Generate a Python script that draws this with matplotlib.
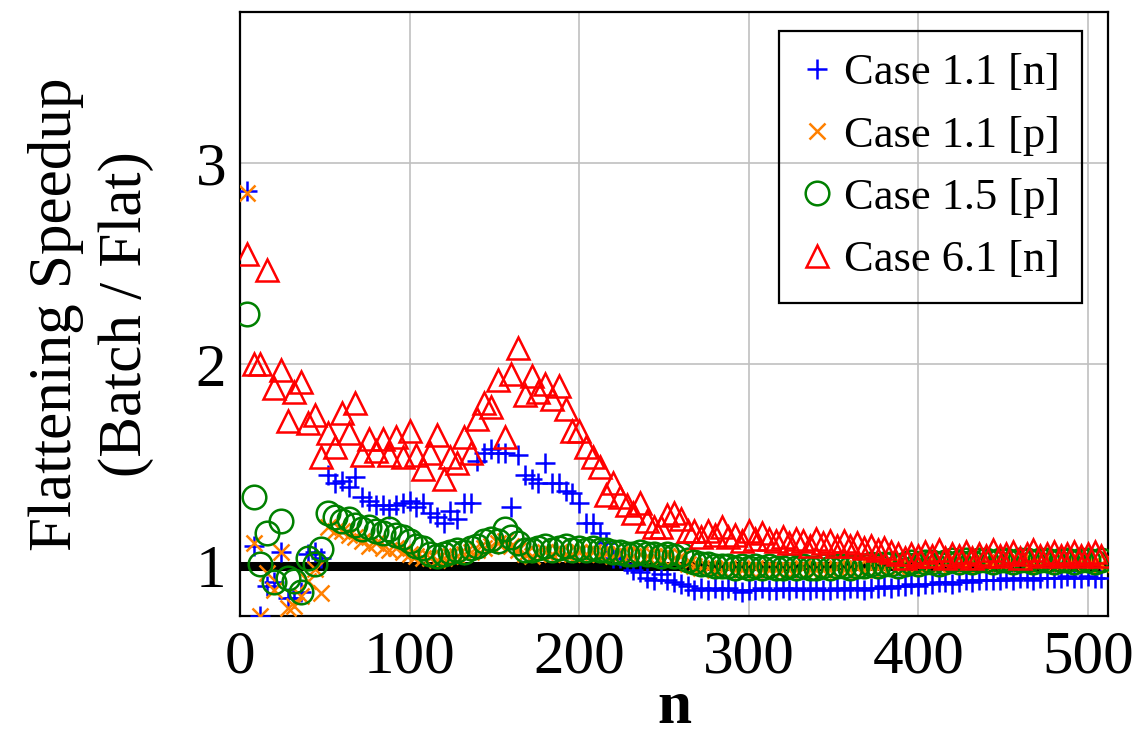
import numpy as np
import matplotlib
matplotlib.use("Agg")
import matplotlib.pyplot as plt

plt.rcParams['font.family'] = ['Liberation Serif', 'DejaVu Serif']

# n = 4, 8, ..., 508
n_vals = np.arange(4, 512, 4)

case11n = [2.86, 1.10, 0.75, 0.90, 0.92, 1.07, 0.84, 0.84, 0.87, 1.06,
           1.07, 1.04, 1.45, 1.41, 1.42, 1.39, 1.44, 1.34, 1.32, 1.30,
           1.30, 1.28, 1.30, 1.31, 1.32, 1.29, 1.31, 1.26, 1.24, 1.21,
           1.27, 1.23, 1.31, 1.31, 1.52, 1.56, 1.58, 1.56, 1.56, 1.29,
           1.55, 1.45, 1.43, 1.41, 1.51, 1.41, 1.41, 1.37, 1.36, 1.31,
           1.21, 1.21, 1.16, 1.11, 1.04, 1.04, 1.01, 0.98, 0.97, 0.94,
           0.93, 0.96, 0.93, 0.92, 0.91, 0.90, 0.88, 0.89, 0.88, 0.89,
           0.88, 0.89, 0.88, 0.87, 0.88, 0.88, 0.89, 0.88, 0.88, 0.89,
           0.88, 0.89, 0.88, 0.88, 0.89, 0.88, 0.88, 0.89, 0.88, 0.89,
           0.89, 0.88, 0.89, 0.89, 0.90, 0.89, 0.90, 0.90, 0.91, 0.90,
           0.91, 0.91, 0.92, 0.92, 0.91, 0.92, 0.93, 0.92, 0.93, 0.93,
           0.93, 0.93, 0.94, 0.93, 0.94, 0.94, 0.93, 0.94, 0.94, 0.94,
           0.94, 0.95, 0.94, 0.94, 0.95, 0.94, 0.94]

case11p = [2.85, 1.11, 0.75, 0.965, 0.88, 1.07, 0.79, 0.80, 0.85, 0.925,
           0.985, 0.865, 1.19, 1.17, 1.17, 1.15, 1.14, 1.12, 1.10, 1.11,
           1.09, 1.08, 1.09, 1.07, 1.06, 1.05, 1.04, 1.04, 1.03, 1.04,
           1.05, 1.05, 1.06, 1.07, 1.08, 1.09, 1.10, 1.11, 1.12, 1.10,
           1.08, 1.06, 1.05, 1.06, 1.07, 1.06, 1.07, 1.06, 1.06, 1.07,
           1.06, 1.07, 1.06, 1.06, 1.05, 1.06, 1.05, 1.05, 1.06, 1.05,
           1.05, 1.04, 1.05, 1.04, 1.05, 1.01, 1.00, 0.99, 0.99, 0.98,
           0.98, 0.99, 0.98, 0.98, 0.98, 0.99, 0.98, 0.98, 0.98, 0.98,
           0.98, 0.98, 0.99, 0.98, 0.98, 0.98, 0.98, 0.99, 0.98, 0.98,
           0.99, 0.98, 0.99, 0.99, 0.99, 1.00, 0.99, 1.00, 1.00, 1.00,
           1.00, 1.01, 1.00, 1.01, 1.01, 1.01, 1.01, 1.02, 1.01, 1.01,
           1.01, 1.02, 1.01, 1.01, 1.02, 1.01, 1.02, 1.01, 1.02, 1.01,
           1.01, 1.02, 1.01, 1.02, 1.01, 1.02, 1.01]

case15p = [2.25, 1.34, 1.01, 1.16, 0.92, 1.22, 0.94, 0.925, 0.87, 1.04,
           1.01, 1.085, 1.26, 1.24, 1.22, 1.23, 1.20, 1.18, 1.19, 1.17,
           1.16, 1.18, 1.15, 1.14, 1.12, 1.10, 1.09, 1.06, 1.05, 1.06,
           1.07, 1.08, 1.07, 1.09, 1.10, 1.12, 1.13, 1.12, 1.18, 1.14,
           1.11, 1.08, 1.08, 1.09, 1.10, 1.08, 1.09, 1.10, 1.08, 1.09,
           1.08, 1.09, 1.08, 1.08, 1.07, 1.07, 1.06, 1.06, 1.07, 1.06,
           1.06, 1.05, 1.06, 1.05, 1.06, 1.03, 1.02, 1.01, 1.01, 1.00,
           1.00, 1.00, 0.99, 1.00, 0.99, 1.00, 0.99, 1.00, 0.99, 0.99,
           1.00, 0.99, 1.00, 0.99, 0.99, 1.00, 0.99, 1.00, 1.00, 0.99,
           1.00, 1.00, 1.01, 1.00, 1.01, 1.01, 1.00, 1.01, 1.02, 1.01,
           1.02, 1.02, 1.01, 1.02, 1.03, 1.02, 1.03, 1.02, 1.03, 1.03,
           1.02, 1.03, 1.03, 1.02, 1.03, 1.03, 1.02, 1.03, 1.03, 1.02,
           1.03, 1.03, 1.02, 1.03, 1.03, 1.02, 1.03]

case61n = [2.55, 2.00, 2.00, 2.47, 1.88, 1.97, 1.72, 1.86, 1.91, 1.71,
           1.75, 1.54, 1.66, 1.59, 1.76, 1.66, 1.81, 1.55, 1.63, 1.57,
           1.63, 1.55, 1.64, 1.54, 1.67, 1.55, 1.48, 1.56, 1.65, 1.43,
           1.54, 1.51, 1.64, 1.56, 1.73, 1.81, 1.79, 1.92, 1.64, 1.95,
           2.08, 1.85, 1.94, 1.86, 1.90, 1.83, 1.89, 1.78, 1.67, 1.67,
           1.59, 1.54, 1.49, 1.35, 1.41, 1.34, 1.30, 1.26, 1.31, 1.22,
           1.19, 1.19, 1.25, 1.26, 1.23, 1.17, 1.17, 1.14, 1.17, 1.15,
           1.19, 1.14, 1.15, 1.12, 1.17, 1.13, 1.16, 1.13, 1.12, 1.14,
           1.11, 1.13, 1.12, 1.10, 1.13, 1.11, 1.12, 1.10, 1.12, 1.10,
           1.11, 1.09, 1.10, 1.08, 1.09, 1.07, 1.06, 1.04, 1.06, 1.05,
           1.07, 1.05, 1.08, 1.04, 1.06, 1.05, 1.07, 1.04, 1.06, 1.05,
           1.08, 1.05, 1.06, 1.07, 1.04, 1.06, 1.08, 1.05, 1.06, 1.07,
           1.05, 1.06, 1.07, 1.05, 1.06, 1.07, 1.05]

labels = ['Case 1.1 [n]', 'Case 1.1 [p]', 'Case 1.5 [p]', 'Case 6.1 [n]']

fig = plt.figure(figsize=(11.38, 7.48), dpi=100)
ax = fig.add_axes([0.211, 0.1765, 0.7627, 0.8075])

ax.axhline(1, color='black', lw=6.5, zorder=1.5)

mew = 1.8
ax.plot(n_vals, case11n, ls='none', marker='+', ms=14, mew=mew, color='#0000ff', label=labels[0], zorder=3)
ax.plot(n_vals, case11p, ls='none', marker='x', ms=11, mew=mew, color='#ff8000', label=labels[1], zorder=3)
ax.plot(n_vals, case15p, ls='none', marker='o', ms=17, mew=mew, mfc='none', mec='#008000', label=labels[2], zorder=3)
ax.plot(n_vals, case61n, ls='none', marker='^', ms=16, mew=mew, mfc='none', mec='#ff0000', label=labels[3], zorder=3)

ax.set_xlim(0, 512)
ax.set_ylim(0.75, 3.75)
ax.set_xticks([0, 100, 200, 300, 400, 500])
ax.set_yticks([1, 2, 3])
ax.grid(True, color='#c0c0c0', lw=1.2)
ax.set_axisbelow(True)
ax.tick_params(labelsize=44, direction='in', length=0, pad=10)
for s in ax.spines.values():
    s.set_linewidth(1.6)

ax.set_xlabel('n', fontsize=44, fontweight='bold', labelpad=-4)
ax.set_ylabel('Flattening Speedup\n(Batch / Flat)', fontsize=44, linespacing=1.33, labelpad=30)

leg = ax.legend(loc='upper right', bbox_to_anchor=(0.970, 0.9685), borderaxespad=0,
                fontsize=32, frameon=True, fancybox=False, framealpha=1,
                handlelength=0.7, handletextpad=0.25, labelspacing=0.5,
                borderpad=0.5)
leg.get_frame().set_edgecolor('black')
leg.get_frame().set_linewidth(1.6)
leg.get_frame().set_facecolor('none')

plt.savefig('out.png', dpi=100)
